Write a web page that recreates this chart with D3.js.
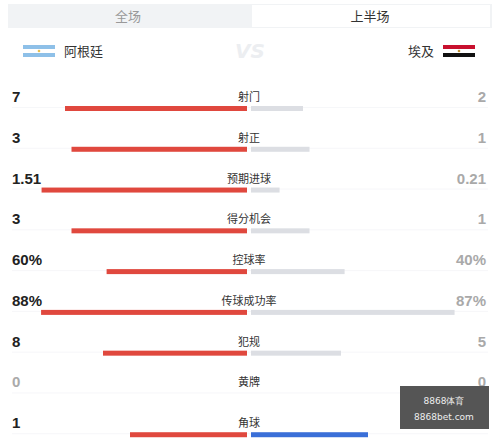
<!DOCTYPE html><html><head><meta charset="utf-8"><script src="https://cdn.jsdelivr.net/npm/d3@7"></script>
<style>body{margin:0;background:#fff}</style></head><body><svg id="c" width="500" height="440"></svg>
<script>
const categories=["射门","射正","预期进球","得分机会","控球率","传球成功率","犯规","黄牌","角球"];
const homeValues=[7,3,1.51,3,60,88,8,0,1];
const awayValues=[2,1,0.21,1,40,87,5,0,1];
const homeLabels=["7","3","1.51","3","60%","88%","8","0","1"];
const awayLabels=["2","1","0.21","1","40%","87%","5","0","1"];
const isPercent=[false,false,false,false,true,true,false,false,false];
const teams=["阿根廷","埃及"];
const tabs=["全场","上半场"];
const svg=d3.select("#c"),F="'Noto Sans CJK SC','Noto Sans',sans-serif";
// tabs
svg.append("rect").attr("x",8).attr("y",4).attr("width",484).attr("height",24).attr("fill","#f1f3f5");
svg.append("rect").attr("x",252).attr("y",5).attr("width",238).attr("height",22).attr("fill","#fff");
svg.append("text").attr("x",128).attr("y",21).attr("text-anchor","middle").attr("font-family",F).attr("font-size",13).attr("fill","#999").text(tabs[0]);
svg.append("text").attr("x",370).attr("y",21).attr("text-anchor","middle").attr("font-family",F).attr("font-size",13).attr("fill","#333").text(tabs[1]);
// flags
const ar=svg.append("g").attr("transform","translate(23,45)");
ar.append("rect").attr("width",32).attr("height",12).attr("fill","#8ec0e8");
ar.append("rect").attr("y",4).attr("width",32).attr("height",4).attr("fill","#fff");
ar.append("circle").attr("cx",16).attr("cy",6).attr("r",1.3).attr("fill","#e8c050");
const eg=svg.append("g").attr("transform","translate(443,45)");
eg.append("rect").attr("width",32).attr("height",4).attr("fill","#c8102e");
eg.append("rect").attr("y",4).attr("width",32).attr("height",4).attr("fill","#fff");
eg.append("rect").attr("y",8).attr("width",32).attr("height",4).attr("fill","#111");
eg.append("circle").attr("cx",16).attr("cy",6).attr("r",1.3).attr("fill","#c09030");
svg.append("text").attr("x",64).attr("y",56).attr("font-family",F).attr("font-size",13).attr("fill","#333").text(teams[0]);
svg.append("text").attr("x",434).attr("y",56).attr("text-anchor","end").attr("font-family",F).attr("font-size",13).attr("fill","#333").text(teams[1]);
svg.append("text").attr("x",250).attr("y",58).attr("text-anchor","middle").attr("font-family","DejaVu Sans").attr("font-style","italic").attr("font-weight","bold").attr("font-size",20).attr("fill","#eceef1").text("VS");
// rows
const y=d3.scaleBand().domain(categories).range([80,447]);
const w=d3.scaleLinear().domain([0,1]).range([0,234]);
const cx=249;
categories.forEach((c,i)=>{
  const top=y(c);
  const h=homeValues[i],a=awayValues[i];
  let fh,fa;
  if(isPercent[i]){fh=h/100;fa=a/100;} else {const s=h+a;fh=s?h/s:0;fa=s?a/s:0;}
  const g=svg.append("g");
  g.append("text").attr("x",12).attr("y",top+22).attr("font-family","Liberation Sans,Arial").attr("font-weight","bold").attr("font-size",15).attr("fill",h>0?"#222":"#aaa").text(homeLabels[i]);
  g.append("text").attr("x",486).attr("y",top+22).attr("text-anchor","end").attr("font-family","Liberation Sans,Arial").attr("font-weight","bold").attr("font-size",15).attr("fill","#a9a9a9").text(awayLabels[i]);
  g.append("text").attr("x",cx).attr("y",top+21).attr("text-anchor","middle").attr("font-family",F).attr("font-size",11).attr("fill","#333").text(c);
  g.append("rect").attr("x",12).attr("y",top+27).attr("width",476).attr("height",1).attr("fill","#f6f7f9");
  const last=i===categories.length-1;
  if(fh>0)g.append("rect").attr("x",cx-2-w(fh)).attr("y",top+26).attr("width",w(fh)).attr("height",5).attr("fill","#e0483e");
  if(fa>0)g.append("rect").attr("x",cx+2).attr("y",top+26).attr("width",w(fa)).attr("height",5).attr("fill",last?"#3a6fd8":"#dcdee3");
});
// watermark
svg.append("rect").attr("x",400).attr("y",386).attr("width",89).attr("height",43).attr("fill","#555");
svg.append("text").attr("x",444).attr("y",404).attr("text-anchor","middle").attr("font-family","DejaVu Sans").attr("font-size",9).attr("fill","#eee").text("8868体育");
svg.append("text").attr("x",444).attr("y",420).attr("text-anchor","middle").attr("font-family","DejaVu Sans").attr("font-size",9).attr("fill","#eee").text("8868bet.com");
</script></body></html>
